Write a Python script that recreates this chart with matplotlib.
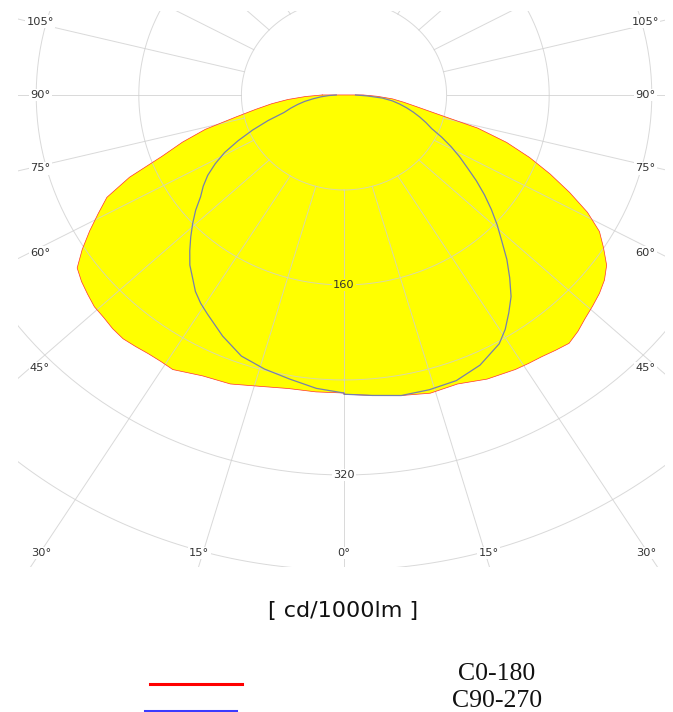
"""Polar light distribution curve (C0-180 / C90-270) in cd/1000lm."""

import numpy as np
import matplotlib
matplotlib.use('Agg')
import matplotlib.pyplot as plt
from matplotlib.lines import Line2D

# gamma angle from nadir, degrees
gamma = [0, 5, 10, 15, 20, 25, 30, 32.5, 35, 37.5, 40, 42.5, 45, 47.5, 50, 52.5, 55,
         57.5, 60, 62.5, 65, 67.5, 70, 72.5, 75, 77.5, 80, 82.5, 85, 87.5, 90]
# intensities in cd/1000lm
c0 = [252, 254, 257, 260, 259, 264, 267, 268, 269, 271, 273, 270, 266, 263, 260, 256, 250,
      240, 230, 214, 194, 174, 154, 133, 108, 75, 58, 47, 38, 26, 15]
c180 = [251, 251, 251, 254, 259, 261, 267, 266, 266, 267, 268, 267, 265, 264, 261, 258, 254,
        242, 229, 216, 204, 181, 151, 132, 112, 87, 70, 57, 44, 30, 17]
c90 = [252, 254, 257, 257, 256, 251, 242, 234, 224, 214, 201, 188, 174, 162, 150, 138, 126,
       114, 104, 94, 84, 74, 68, 62, 56, 50, 44, 38, 30, 18, 9]
c270 = [251, 248, 243, 239, 234, 224, 213, 208, 202, 194, 187, 178, 169, 160, 151, 141, 134,
        126, 116, 105, 91, 77, 63, 49, 43, 37, 31, 24, 18, 12, 6]

rings = [80, 160, 240, 320, 400, 480]
ring_labels = [160, 320]
side_angles = [45, 60, 75, 90, 105]
bottom_angles = [0, 15, 30]

legend_labels = ['C0-180', 'C90-270']
legend_colors = ['#ff0000', '#3b3bff']

GRID = '#d0d0d0'
TXT = '#333333'
# the radial lines in the source come out a bit wider than the rings
STRETCH = 1.065


def half(values, side):
    a = np.radians(gamma)
    v = np.asarray(values, dtype=float)
    return side * v * np.sin(a), -v * np.cos(a)


def curve(right, left):
    xr, yr = half(right, 1)
    xl, yl = half(left, -1)
    return np.concatenate([xl[::-1], xr]), np.concatenate([yl[::-1], yr])


def ray(ang):
    a = np.radians(ang)
    return STRETCH * np.sin(a), -np.cos(a)


fig = plt.figure(figsize=(6.73, 7.12), dpi=100)
ax = fig.add_axes([18 / 673, 1 - 567 / 712, 647 / 673, 556 / 712])
ax.set_xlim(-254.2, 250.3)
ax.set_ylim(-397.5, 70.7)
ax.axis('off')

# C0-180 filled
x, y = curve(c0, c180)
ax.fill(x, y, color='#ffff00', lw=0, zorder=1)
ax.plot(np.append(x, x[0]), np.append(y, y[0]), color='#ff3030', lw=0.5, zorder=3)

# grid on top of the fill
th = np.linspace(0, 2 * np.pi, 400)
for r in rings:
    ax.plot(r * np.sin(th), -r * np.cos(th), color=GRID, lw=0.7, alpha=0.8, zorder=2)
for ang in range(-180, 181, 15):
    dx, dy = ray(ang)
    t0 = rings[0] / np.hypot(dx, dy)
    ax.plot([dx * t0, dx * 700], [dy * t0, dy * 700], color=GRID, lw=0.7, alpha=0.8, zorder=2)

# C90-270 line
x, y = curve(c90, c270)
ax.plot(x, y, color='#7780ac', lw=0.9, zorder=3)

# ring values
for r in ring_labels:
    bg = '#ffff00' if r <= max(c0) else 'white'
    ax.text(0, -r, str(r), ha='center', va='center', fontsize=8.2, color=TXT, zorder=4,
            bbox=dict(facecolor=bg, edgecolor='none', pad=1))

# angle labels, sitting where the rays run out at the frame
box = dict(facecolor='white', edgecolor='none', pad=1)
for ang in side_angles:
    dx, dy = ray(ang)
    for xs in (-237, 235):
        ax.text(xs, dy * 245 / dx, f'{ang}°', ha='center', va='center',
                fontsize=8.2, color=TXT, zorder=4, bbox=box)
for ang in bottom_angles:
    dx, dy = ray(ang)
    xb = min(dx * 395.8 / -dy, 236)
    for side in ((-1, 1) if ang else (1,)):
        ax.text(side * xb, -385.7, f'{ang}°', ha='center', va='center',
                fontsize=8.2, color=TXT, zorder=4, bbox=box)

fig.text(343 / 673, 1 - 611 / 712, '[ cd/1000lm ]', ha='center', va='center',
         fontsize=16, color='#111111')

# legend
line_pos = [(150, 242, 684), (145, 236, 710.5)]
text_y = [673.5, 701]
for lab, col, (x0, x1, yl), yt in zip(legend_labels, legend_colors, line_pos, text_y):
    fig.add_artist(Line2D([x0 / 673, x1 / 673], [1 - yl / 712, 1 - yl / 712],
                          color=col, lw=2.2, transform=fig.transFigure))
    fig.text(497 / 673, 1 - yt / 712, lab, ha='center', va='center',
             family='Liberation Serif', fontsize=18.5, color='#111111')

fig.savefig('out.png', dpi=100)
